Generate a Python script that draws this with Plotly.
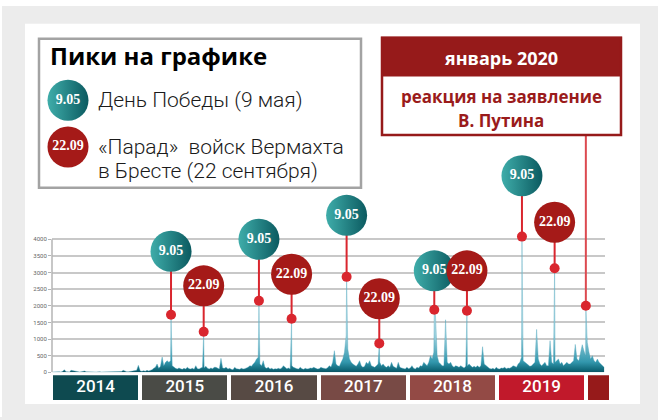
import plotly.graph_objects as go
import pandas as pd

W, H = 658, 420

# --- data ----------------------------------------------------------------
years = [2014, 2015, 2016, 2017, 2018, 2019, 2020]
year_labels = ['2014', '2015', '2016', '2017', '2018', '2019', '']
year_colors = ['#0e4a50', '#4a4b46', '#574a44', '#784a45', '#934a45', '#c1192b', '#961a1a']

# weekly level of mentions, starting on Jan 1 of each year
weekly_2014 = [10, 15, 12, 20, 15, 10, 30, 80, 20, 15, 10, 60, 50, 20, 15, 10, 12, 15, 20, 40,
               15, 10, 12, 10, 15, 12, 10, 20, 15, 10, 12, 15, 10, 12, 15, 20, 15, 12, 10, 15,
               20, 25, 60, 30, 20, 15, 20, 25, 30, 40, 60, 210]
weekly_2015 = [40, 30, 50, 35, 60, 40, 50, 80, 120, 150, 250, 120, 180, 460, 200, 300, 350, 300, 350, 200,
               150, 120, 100, 130, 110, 90, 120, 100, 150, 110, 100, 120, 90, 200, 110, 100, 130, 150, 140, 180,
               120, 100, 130, 110, 150, 150, 120, 100, 420, 130, 120, 150]
weekly_2016 = [100, 120, 90, 80, 150, 110, 100, 90, 120, 100, 110, 130, 150, 200, 180, 250, 300, 400, 450, 250,
               200, 350, 150, 120, 150, 100, 120, 90, 110, 100, 120, 100, 130, 200, 150, 110, 130, 100, 200, 150,
               120, 110, 100, 150, 110, 90, 120, 100, 110, 130, 120, 150]
weekly_2017 = [120, 100, 110, 150, 130, 120, 110, 140, 200, 160, 300, 650, 250, 200, 180, 300, 400, 600, 1100, 700,
               400, 300, 250, 200, 180, 250, 350, 200, 150, 180, 300, 250, 350, 200, 180, 150, 200, 250, 300, 200,
               250, 180, 150, 200, 150, 300, 180, 150, 120, 300, 150, 130]
weekly_2018 = [120, 100, 150, 110, 130, 200, 120, 100, 150, 130, 200, 180, 300, 250, 200, 300, 500, 400, 600, 1700,
               500, 300, 250, 200, 200, 1580, 300, 250, 300, 200, 150, 200, 180, 150, 200, 150, 130, 180, 200, 250,
               200, 150, 180, 150, 200, 150, 200, 770, 250, 200, 150, 120]
weekly_2019 = [100, 120, 90, 150, 110, 100, 130, 120, 150, 110, 130, 120, 150, 200, 180, 150, 250, 300, 450, 350,
               300, 250, 200, 180, 200, 250, 300, 1290, 400, 250, 200, 250, 300, 200, 200, 950, 300, 250, 300, 350,
               400, 250, 300, 200, 250, 300, 250, 250, 300, 350, 840, 400]
weekly_2020 = [350, 600, 830, 650, 500, 900, 600, 400, 500, 350, 300, 400, 300, 250, 200, 150]

# the marked peaks
peak_dates = ['2015-05-09', '2015-09-22', '2016-05-09', '2016-09-22', '2017-05-09', '2017-09-22',
              '2018-05-09', '2018-09-22', '2019-05-09', '2019-09-22', '2020-01-30']
peak_values = [1730, 1220, 2150, 1610, 2870, 870, 1880, 1850, 4080, 3130, 2000]
bubble_labels = ['9.05', '22.09', '9.05', '22.09', '9.05', '22.09', '9.05', '22.09', '9.05', '22.09']
bubble_heights = [3640, 2600, 4000, 2950, 4720, 2210, 3050, 3050, 5910, 4510]
reaction_top = 7140  # the Jan 2020 pin runs up to the callout box

y_ticks = [0, 500, 1000, 1500, 2000, 2500, 3000, 3500, 4000]

TEAL_DARK, TEAL_LIGHT = '#0b5a60', '#3fadaa'
RED_BUBBLE = '#a51a18'
RED_PIN = '#d9262e'
BOX_RED = '#961a1a'


def px(x):
    return x / W


def py(y):
    return 1 - y / H


# --- build the series ----------------------------------------------------
weekly_series = [(2014, weekly_2014), (2015, weekly_2015), (2016, weekly_2016), (2017, weekly_2017),
                 (2018, weekly_2018), (2019, weekly_2019), (2020, weekly_2020)]
dates, values = [], []
for year, vals in weekly_series:
    dates.extend(pd.date_range(f'{year}-01-01', periods=len(vals), freq='7D'))
    values.extend(vals)
series = pd.Series(values, index=pd.DatetimeIndex(dates))
peaks = pd.Series(peak_values, index=pd.to_datetime(peak_dates))
series = pd.concat([series, peaks]).groupby(level=0).max().sort_index()

fig = go.Figure()

fig.add_trace(go.Scatter(
    x=series.index, y=series.values,
    mode='lines',
    line=dict(color='rgba(70,160,185,0.75)', width=0.5),
    fill='tozeroy',
    fillgradient=dict(type='vertical', start=0, stop=4000,
                      colorscale=[[0, '#09404d'], [0.03, '#0f6677'], [0.09, '#3297ad'],
                                  [0.3, '#a6d6e2'], [1, '#eef8fb']]),
    hoverinfo='skip'
))

# stems from peak dots up to the bubbles
stem_x, stem_y = [], []
for d, v, h in zip(peak_dates[:-1], peak_values[:-1], bubble_heights):
    stem_x += [d, d, None]
    stem_y += [v, h, None]
fig.add_trace(go.Scatter(x=stem_x, y=stem_y, mode='lines',
                         line=dict(color=RED_PIN, width=2), hoverinfo='skip'))
fig.add_trace(go.Scatter(x=[peak_dates[-1], peak_dates[-1]], y=[peak_values[-1], reaction_top],
                         mode='lines', line=dict(color='#dc4a50', width=2), hoverinfo='skip'))
fig.add_trace(go.Scatter(x=peak_dates, y=peak_values, mode='markers',
                         marker=dict(color=RED_PIN, size=10), hoverinfo='skip'))

# light on the left, dark on the right
teal_marker = dict(color=TEAL_LIGHT, gradient=dict(type='horizontal', color=TEAL_DARK))
bubble_font = dict(family='Liberation Serif', size=14, color='white')
for label, style in [('9.05', teal_marker), ('22.09', dict(color=RED_BUBBLE))]:
    idx = [i for i, lab in enumerate(bubble_labels) if lab == label]
    fig.add_trace(go.Scatter(
        x=[peak_dates[i] for i in idx], y=[bubble_heights[i] for i in idx],
        mode='markers+text', text=[f'<b>{label}</b>'] * len(idx), textposition='middle center',
        textfont=bubble_font, marker=dict(size=41, **style), hoverinfo='skip'
    ))

# year strip under the chart
strip_end = pd.Timestamp('2020-03-26')
starts = [pd.Timestamp(f'{y}-01-01') for y in years]
ends = [pd.Timestamp(f'{y + 1}-01-01') - pd.Timedelta(days=16) for y in years[:-1]] + [strip_end]
centers = [s + (e - s) / 2 for s, e in zip(starts, ends)]
fig.add_trace(go.Bar(
    x=centers,
    y=[1] * len(years),
    width=[(e - s).total_seconds() * 1000 for s, e in zip(starts, ends)],
    marker=dict(color=year_colors, line=dict(width=0)),
    xaxis='x2', yaxis='y2', hoverinfo='skip'
))
fig.add_trace(go.Scatter(
    x=centers, y=[0.5] * len(years), mode='text', text=year_labels,
    textposition='middle center',
    textfont=dict(family='Roboto', size=17, color='white', weight=500),
    xaxis='x2', yaxis='y2', hoverinfo='skip'
))

# legend bubbles on a pixel canvas
fig.add_trace(go.Scatter(
    x=[68], y=[101], mode='markers+text', text=['<b>9.05</b>'], textfont=bubble_font,
    marker=dict(size=41, **teal_marker), xaxis='x3', yaxis='y3', hoverinfo='skip'
))
fig.add_trace(go.Scatter(
    x=[68], y=[148], mode='markers+text', text=['<b>22.09</b>'], textfont=bubble_font,
    marker=dict(size=41, color=RED_BUBBLE), xaxis='x3', yaxis='y3', hoverinfo='skip'
))

shapes = [
    dict(type='rect', xref='paper', yref='paper', x0=0, x1=1, y0=py(6), y1=1,
         fillcolor='white', line_width=0, layer='below'),
    dict(type='rect', xref='paper', yref='paper', x0=0, x1=px(2), y0=0, y1=1,
         fillcolor='white', line_width=0, layer='below'),
    dict(type='rect', xref='paper', yref='paper', x0=px(25), x1=px(640), y0=py(407), y1=py(24),
         fillcolor='white', line_width=0, layer='below'),
    dict(type='line', xref='paper', yref='y', x0=px(52), x1=px(52), y0=0, y1=4000,
         line=dict(color='#b4b4b4', width=1.5)),
    # legend frame
    dict(type='rect', xref='paper', yref='paper', x0=px(39), x1=px(361), y0=py(189), y1=py(39),
         line=dict(color='#a3a3a3', width=2.5)),
    # callout box
    dict(type='rect', xref='paper', yref='paper', x0=px(382), x1=px(621), y0=py(76), y1=py(38),
         fillcolor=BOX_RED, line=dict(color=BOX_RED, width=2)),
    dict(type='rect', xref='paper', yref='paper', x0=px(382), x1=px(621), y0=py(136), y1=py(38),
         line=dict(color=BOX_RED, width=2.5)),
]

legend_font = dict(family='Roboto', size=21, weight=300, color='#1a1a1a')
box_font = dict(family='Open Sans', size=17, color='#9a1b1b')
annotations = [
    dict(x=px(48), y=py(56), text='<b>Пики на графике</b>',
         font=dict(family='Open Sans', size=24, color='black')),
    dict(x=px(96), y=py(101), text='День Победы (9 мая)', font=legend_font),
    dict(x=px(96), y=py(148), text='«Парад»  войск Вермахта', font=legend_font),
    dict(x=px(96), y=py(172), text='в Бресте (22 сентября)', font=legend_font),
    dict(x=px(501), y=py(58), text='<b>январь 2020</b>', xanchor='center',
         font=dict(family='Open Sans', size=18, color='white')),
    dict(x=px(501), y=py(97), text='<b>реакция на заявление</b>', xanchor='center', font=box_font),
    dict(x=px(501), y=py(121), text='<b>В. Путина</b>', xanchor='center', font=box_font),
]
for a in annotations:
    a.setdefault('xanchor', 'left')
    a.update(xref='paper', yref='paper', yanchor='middle', showarrow=False)

fig.update_layout(
    width=W, height=H,
    margin=dict(l=0, r=0, t=0, b=0),
    paper_bgcolor='#ececec',
    plot_bgcolor='rgba(0,0,0,0)',
    showlegend=False,
    hovermode=False,
    xaxis=dict(domain=[px(52), px(605)], range=['2013-12-29 12:00', '2020-04-18 17:00'],
               type='date', visible=False, anchor='y'),
    yaxis=dict(domain=[py(375), py(130)], range=[0, 7313], anchor='x',
               tickvals=y_ticks, tickformat='d', showgrid=True, gridcolor='#c8c8c8', gridwidth=1.5,
               zeroline=False, showline=False, ticks='outside', ticklen=3, tickcolor='#b4b4b4',
               tickfont=dict(family='Roboto', size=6, color='#666666')),
    xaxis2=dict(domain=[px(53), px(609)], range=['2014-01-01', '2020-03-26'], type='date',
                visible=False, anchor='y2'),
    yaxis2=dict(domain=[py(403), py(378)], range=[0, 1], visible=False, anchor='x2'),
    xaxis3=dict(domain=[0, 1], range=[0, W], visible=False, anchor='y3'),
    yaxis3=dict(domain=[0, 1], range=[H, 0], visible=False, anchor='x3'),
    shapes=shapes,
    annotations=annotations,
    bargap=0,
)

# the page's default body margin would push the figure off its 658x420 window
fig.write_html('out.html', config={'displayModeBar': False},
               post_script="document.body.style.margin='0';")
